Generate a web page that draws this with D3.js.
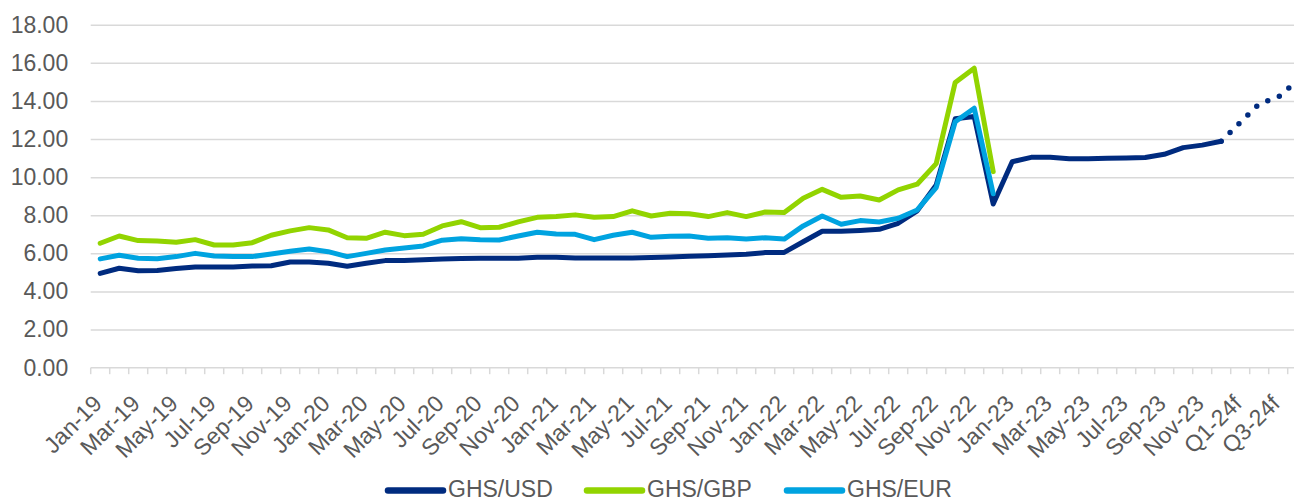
<!DOCTYPE html>
<html>
<head>
<meta charset="utf-8">
<script src="https://cdn.jsdelivr.net/npm/d3@7"></script>
<style>
  body { margin: 0; background: #fff; }
  svg { display: block; font-family: "Liberation Sans", Arial, sans-serif; }
</style>
</head>
<body>
<div id="chart"></div>
<script>
// categories: monthly Jan-19 .. Dec-23, then quarterly forecasts
const categories = [
  "Jan-19","Feb-19","Mar-19","Apr-19","May-19","Jun-19","Jul-19","Aug-19","Sep-19","Oct-19","Nov-19","Dec-19",
  "Jan-20","Feb-20","Mar-20","Apr-20","May-20","Jun-20","Jul-20","Aug-20","Sep-20","Oct-20","Nov-20","Dec-20",
  "Jan-21","Feb-21","Mar-21","Apr-21","May-21","Jun-21","Jul-21","Aug-21","Sep-21","Oct-21","Nov-21","Dec-21",
  "Jan-22","Feb-22","Mar-22","Apr-22","May-22","Jun-22","Jul-22","Aug-22","Sep-22","Oct-22","Nov-22","Dec-22",
  "Jan-23","Feb-23","Mar-23","Apr-23","May-23","Jun-23","Jul-23","Aug-23","Sep-23","Oct-23","Nov-23","Dec-23",
  "Q1-24f","Q2-24f","Q3-24f","Q4-24f"
];

const ghsUsd = [
  4.95, 5.22, 5.09, 5.10, 5.20, 5.29, 5.29, 5.29, 5.34, 5.35, 5.55, 5.55,
  5.48, 5.32, 5.48, 5.62, 5.63, 5.67, 5.70, 5.73, 5.74, 5.75, 5.75, 5.79,
  5.79, 5.76, 5.76, 5.76, 5.76, 5.78, 5.81, 5.85, 5.88, 5.92, 5.95, 6.04,
  6.05, 6.61, 7.16, 7.16, 7.20, 7.26, 7.58, 8.23, 9.59, 13.06, 13.18, 8.59,
  10.81, 11.04, 11.04, 10.97, 10.97, 10.99, 11.01, 11.03, 11.20, 11.55, 11.68, 11.88
];

const ghsGbp = [
  6.53, 6.91, 6.67, 6.65, 6.58, 6.72, 6.44, 6.44, 6.56, 6.95, 7.18, 7.35,
  7.23, 6.82, 6.79, 7.11, 6.93, 7.00, 7.44, 7.66, 7.35, 7.37, 7.65, 7.89,
  7.93, 8.02, 7.89, 7.93, 8.23, 7.96, 8.10, 8.08, 7.93, 8.14, 7.93, 8.17,
  8.14, 8.89, 9.36, 8.94, 9.01, 8.80, 9.33, 9.63, 10.71, 14.97, 15.72, 10.29
];

const ghsEur = [
  5.71, 5.90, 5.74, 5.72, 5.83, 6.00, 5.86, 5.84, 5.83, 5.97, 6.11, 6.23,
  6.09, 5.83, 6.00, 6.18, 6.28, 6.39, 6.69, 6.77, 6.72, 6.70, 6.91, 7.11,
  7.02, 7.00, 6.72, 6.95, 7.11, 6.84, 6.90, 6.91, 6.79, 6.82, 6.75, 6.82,
  6.75, 7.44, 7.96, 7.53, 7.72, 7.65, 7.84, 8.28, 9.45, 12.91, 13.62, 9.13
];

// forecast (dotted) starts from the last actual month
const forecastCats = ["Dec-23","Q1-24f","Q2-24f","Q3-24f","Q4-24f"];
const forecastUsd = [11.88, 12.87, 13.85, 14.20, 15.05];

const yTicks = [0, 2, 4, 6, 8, 10, 12, 14, 16, 18];

const seriesNames = ["GHS/USD", "GHS/GBP", "GHS/EUR"];
const seriesColors = ["#002B7F", "#92D400", "#00A3E0"];

const W = 1294, H = 503;
const plotLeft = 90.7, bandW = 19, plotTop = 24.7, plotBottom = 367.7;

const svg = d3.select("#chart").append("svg")
  .attr("width", W).attr("height", H);

const x = d3.scaleBand().domain(categories)
  .range([plotLeft, plotLeft + bandW * categories.length]);
const cx = d => x(d) + x.bandwidth() / 2;
const y = d3.scaleLinear().domain([0, 18]).range([plotBottom, plotTop]);

// gridlines
svg.append("g")
  .attr("transform", `translate(${plotLeft},0)`)
  .call(d3.axisLeft(y).tickValues(yTicks.filter(v => v > 0)).tickSize(-(bandW * categories.length)).tickFormat(""))
  .call(g => g.select(".domain").remove())
  .selectAll("line").attr("stroke", "#d9d9d9").attr("stroke-width", 1.5);

// y labels
svg.append("g")
  .attr("transform", `translate(${plotLeft},0)`)
  .call(d3.axisLeft(y).tickValues(yTicks).tickSize(0).tickPadding(22.5).tickFormat(d3.format(".2f")))
  .call(g => g.select(".domain").remove())
  .selectAll("text")
  .attr("fill", "#595959")
  .style("font-size", "23px")
  .style("font-family", "Liberation Sans, Arial, sans-serif");

// x axis line + ticks at category boundaries
const xa = svg.append("g");
xa.append("line")
  .attr("x1", plotLeft).attr("x2", plotLeft + bandW * categories.length)
  .attr("y1", plotBottom).attr("y2", plotBottom)
  .attr("stroke", "#d9d9d9").attr("stroke-width", 1.5);
xa.selectAll(".tk")
  .data(categories)
  .join("line")
  .attr("class", "tk")
  .attr("x1", d => x(d)).attr("x2", d => x(d))
  .attr("y1", plotBottom).attr("y2", plotBottom + 6.5)
  .attr("stroke", "#d9d9d9").attr("stroke-width", 1.5);

// x labels, every other category
xa.selectAll(".xl")
  .data(categories.filter((d, i) => i % 2 === 0))
  .join("text")
  .attr("class", "xl")
  .attr("text-anchor", "end")
  .attr("transform", d => `translate(${cx(d) + 3},${405}) rotate(-45)`)
  .attr("fill", "#595959")
  .style("font-size", "23px")
  .text(d => d);

// lines
const line = d3.line()
  .defined(d => d.v != null)
  .x(d => cx(d.c))
  .y(d => y(d.v));

const allSeries = [ghsUsd, ghsGbp, ghsEur];
allSeries.forEach((vals, k) => {
  svg.append("path")
    .datum(vals.map((v, i) => ({ c: categories[i], v: v })))
    .attr("fill", "none")
    .attr("stroke", seriesColors[k])
    .attr("stroke-width", 5)
    .attr("stroke-linejoin", "round")
    .attr("stroke-linecap", "round")
    .attr("d", line);
});

// forecast dotted line
svg.append("path")
  .datum(forecastUsd.map((v, i) => ({ c: forecastCats[i], v: v })))
  .attr("fill", "none")
  .attr("stroke", seriesColors[0])
  .attr("stroke-width", 5.5)
  .attr("stroke-linecap", "round")
  .attr("stroke-dasharray", "0,12.5")
  .attr("d", line);

// legend (kept just inside the bottom edge)
const legendX = [388, 587, 787];
const leg = svg.append("g");
seriesNames.forEach((name, k) => {
  leg.append("line")
    .attr("x1", legendX[k]).attr("x2", legendX[k] + 55)
    .attr("y1", 490.5).attr("y2", 490.5)
    .attr("stroke", seriesColors[k])
    .attr("stroke-width", 6.5)
    .attr("stroke-linecap", "round");
  leg.append("text")
    .attr("x", legendX[k] + 60)
    .attr("y", 497)
    .attr("fill", "#595959")
    .style("font-size", "23px")
    .text(name);
});
</script>
</body>
</html>
